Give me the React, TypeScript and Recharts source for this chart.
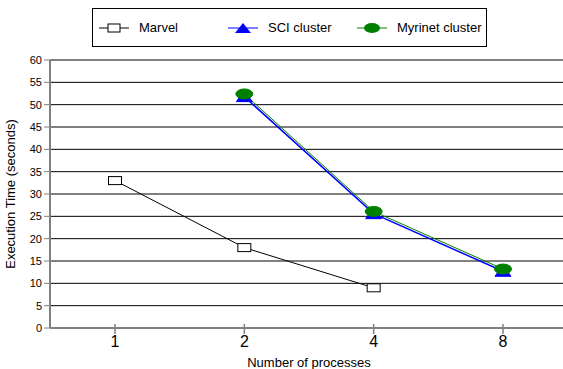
import * as React from 'react'
import {
  LineChart,
  CartesianGrid,
  XAxis,
  YAxis,
  Legend,
  Line,
  Label,
} from 'recharts'

const processes = ['1', '2', '4', '8']
const marvel = [33, 18, 9, null]
const sciCluster = [null, 51.8, 25.6, 12.7]
const myrinetCluster = [null, 52.4, 26.1, 13.2]
const yTicks = [0, 5, 10, 15, 20, 25, 30, 35, 40, 45, 50, 55, 60]

const data = processes.map((p, i) => ({
  procs: p,
  Marvel: marvel[i],
  'SCI cluster': sciCluster[i],
  'Myrinet cluster': myrinetCluster[i],
}))

const FONT = '"Liberation Sans", Arial, sans-serif'

const SquareDot = (props: any) => {
  const { cx, cy } = props
  if (cx == null || cy == null) return null
  return (
    <rect x={cx - 6.5} y={cy - 4} width={13} height={8} fill="#fff" stroke="#000" strokeWidth={1} />
  )
}

const TriangleDot = (props: any) => {
  const { cx, cy } = props
  if (cx == null || cy == null) return null
  return (
    <polygon
      points={`${cx - 8},${cy + 5} ${cx + 8},${cy + 5} ${cx},${cy - 6}`}
      fill="#0000ff"
      stroke="#0000ff"
    />
  )
}

const EllipseDot = (props: any) => {
  const { cx, cy } = props
  if (cx == null || cy == null) return null
  return <ellipse cx={cx} cy={cy} rx={8.5} ry={5} fill="#008000" stroke="#008000" />
}

const XTick = (props: any) => {
  const { x, y, payload } = props
  return (
    <g>
      <line x1={x} x2={x} y1={y - 12} y2={y - 2} stroke="#808080" strokeWidth={1.5} />
      <text x={x} y={y + 11} textAnchor="middle" fontSize={16} fill="#000" fontFamily={FONT}>
        {payload.value}
      </text>
    </g>
  )
}

const legendItems = [
  { name: 'Marvel', color: '#000', icon: 'square', left: 6 },
  { name: 'SCI cluster', color: '#0000ff', icon: 'triangle', left: 135 },
  { name: 'Myrinet cluster', color: '#008000', icon: 'ellipse', left: 264 },
]

const renderLegend = () => (
  <div
    style={{
      position: 'relative',
      width: 393,
      height: 37,
      border: '1px solid #000',
      background: '#fff',
      fontFamily: FONT,
      fontSize: 13,
    }}
  >
    {legendItems.map((it) => (
      <div key={it.name} style={{ position: 'absolute', left: it.left, top: 0, height: 37, display: 'flex', alignItems: 'center' }}>
        <svg width={32} height={14}>
          <line x1={0} x2={30} y1={7} y2={7} stroke={it.color} strokeWidth={1} />
          {it.icon === 'square' && <rect x={9} y={3} width={12} height={8} fill="#fff" stroke="#000" />}
          {it.icon === 'triangle' && <polygon points="7,12 23,12 15,2" fill="#0000ff" />}
          {it.icon === 'ellipse' && <ellipse cx={15} cy={7} rx={8} ry={5} fill="#008000" />}
        </svg>
        <span style={{ marginLeft: 8 }}>{it.name}</span>
      </div>
    ))}
  </div>
)

export default function App() {
  return (
    <div style={{ position: 'absolute', left: 0, top: 0 }}>
      <LineChart
        width={570}
        height={369}
        data={data}
        margin={{ top: 21, right: 2, left: 0, bottom: 5 }}
        style={{ fontFamily: FONT }}
      >
        <CartesianGrid horizontal vertical={false} stroke="#000" strokeWidth={1} />
        <XAxis
          dataKey="procs"
          padding={{ left: 65, right: 65 }}
          height={36}
          axisLine={{ stroke: '#808080', strokeWidth: 2 }}
          tickLine={false}
          tick={<XTick />}
          interval={0}
        >
          <Label value="Number of processes" position="insideBottom" offset={-3} fill="#000" fontSize={13} />
        </XAxis>
        <YAxis
          domain={[0, 60]}
          ticks={yTicks}
          interval={0}
          width={50}
          axisLine={{ stroke: '#808080', strokeWidth: 2 }}
          tickLine={{ stroke: '#808080' }}
          tickSize={6}
          tickMargin={2}
          tick={{ fill: '#000', fontSize: 11 }}
        >
          <Label
            value="Execution Time (seconds)"
            angle={-90}
            position="insideLeft"
            offset={10}
            style={{ textAnchor: 'middle' }}
            fill="#000"
            fontSize={13}
          />
        </YAxis>
        <Legend verticalAlign="top" content={renderLegend} wrapperStyle={{ top: 8, left: 92, width: 395 }} />
        <Line
          dataKey="Marvel"
          stroke="#000"
          strokeWidth={1}
          dot={<SquareDot />}
          isAnimationActive={false}
        />
        <Line
          dataKey="SCI cluster"
          stroke="#0000ff"
          strokeWidth={1.5}
          dot={<TriangleDot />}
          isAnimationActive={false}
        />
        <Line
          dataKey="Myrinet cluster"
          stroke="#008000"
          strokeWidth={1}
          dot={<EllipseDot />}
          isAnimationActive={false}
        />
      </LineChart>
    </div>
  )
}
